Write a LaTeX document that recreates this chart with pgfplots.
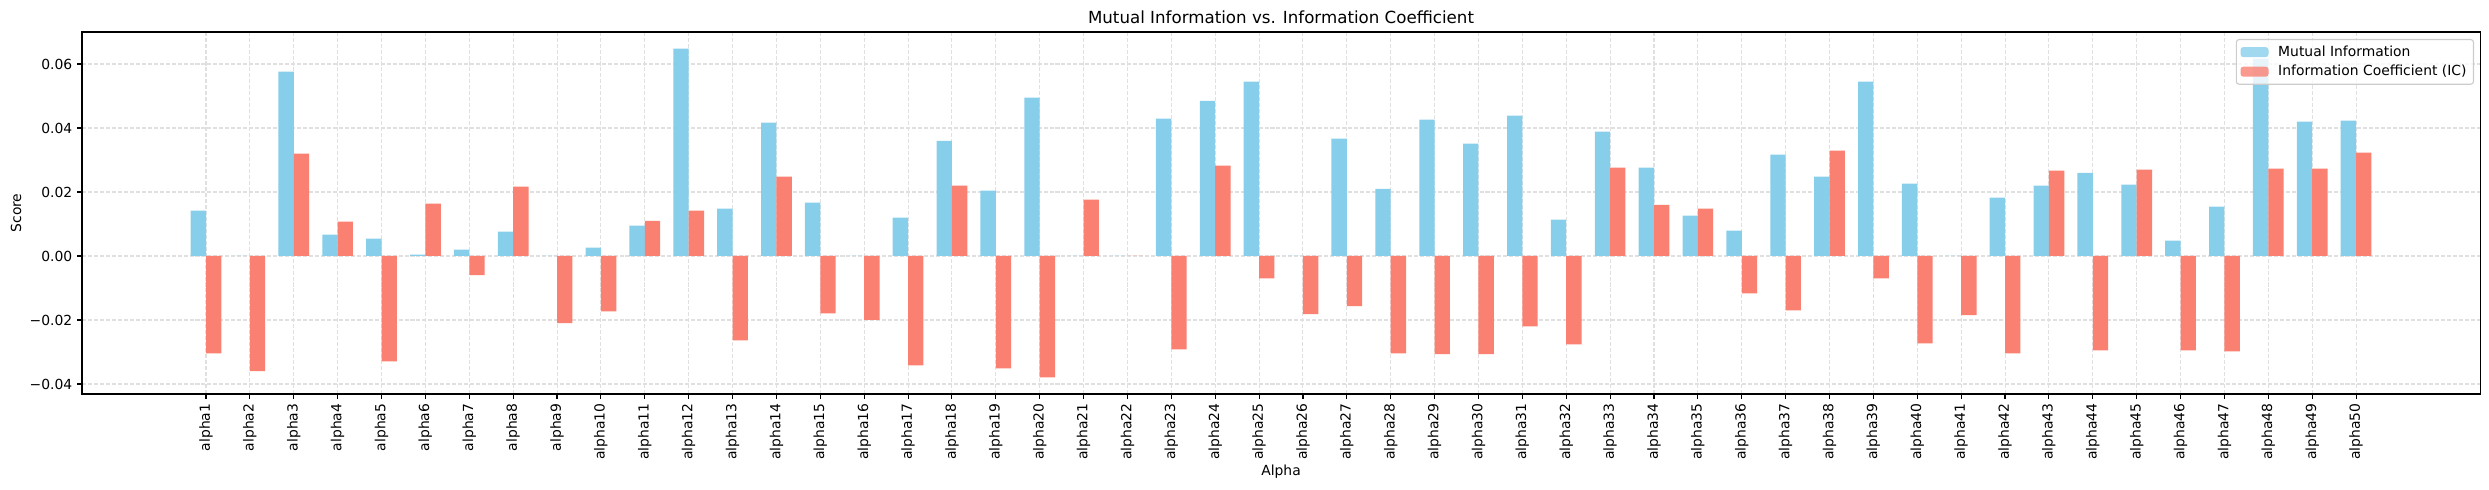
\documentclass[border=0pt]{standalone}
\usepackage{fontspec}
\setmainfont{DejaVu Sans}
\usepackage{pgfplots}
\pgfplotsset{compat=1.18}
\definecolor{mi}{HTML}{87CEEB}
\definecolor{ic}{HTML}{FA8072}
\definecolor{gridc}{HTML}{E0E0E0}
\definecolor{legedge}{HTML}{CCCCCC}
\begin{document}
\fontsize{10bp}{12bp}\selectfont
\begin{tikzpicture}
\useasboundingbox (-59.04bp,-69.12bp) rectangle (1733.04bp,283.68bp);
\begin{axis}[
  scale only axis, width=1726.56bp, height=260.64bp,
  xmin=-2.826, xmax=51.826, ymin=-0.04313, ymax=0.07,
  scaled y ticks=false,
  axis line style={line width=0.8bp},
  tick align=outside, xtick pos=bottom, ytick pos=left,
  major tick length=3.5bp,
  every tick/.style={black, line width=0.8bp},
  grid=major,
  major grid style={gridc, dash pattern=on 2.9bp off 1.4bp, line width=0.75bp},
  xtick={0,...,49},
  xticklabels={alpha1,alpha2,alpha3,alpha4,alpha5,alpha6,alpha7,alpha8,alpha9,alpha10,alpha11,alpha12,alpha13,alpha14,alpha15,alpha16,alpha17,alpha18,alpha19,alpha20,alpha21,alpha22,alpha23,alpha24,alpha25,alpha26,alpha27,alpha28,alpha29,alpha30,alpha31,alpha32,alpha33,alpha34,alpha35,alpha36,alpha37,alpha38,alpha39,alpha40,alpha41,alpha42,alpha43,alpha44,alpha45,alpha46,alpha47,alpha48,alpha49,alpha50},
  xticklabel style={rotate=90, anchor=east, font=\fontsize{10bp}{12bp}\selectfont},
  ytick={-0.04,-0.02,0,0.02,0.04,0.06},
  yticklabels={−0.04,−0.02,0.00,0.02,0.04,0.06},
  yticklabel style={font=\fontsize{10bp}{12bp}\selectfont},
  title={Mutual Information vs. Information Coefficient},
  every axis title/.style={at={(axis description cs:0.5,1)}, anchor=base, yshift=5.76bp, inner sep=0pt, font=\fontsize{12bp}{14.4bp}\selectfont},
  xlabel={Alpha}, ylabel={Score},
  every axis x label/.style={at={(axis description cs:0.5,-0.2257)}, anchor=base, font=\fontsize{10bp}{12bp}\selectfont},
  every axis y label/.style={at={(axis description cs:-0.02751,0.5)}, rotate=90, anchor=center, font=\fontsize{10bp}{12bp}\selectfont},
  legend cell align=left,
  legend style={at={(axis description cs:1,1)}, anchor=north east, xshift=-4.32bp, yshift=-5.04bp,
    draw=legedge, line width=0.8bp, rounded corners=2bp, fill=white, fill opacity=0.8, text opacity=1,
    inner xsep=3bp, inner ysep=2bp, font=\fontsize{10bp}{12bp}\selectfont,
    nodes={inner xsep=2bp, inner ysep=2.5bp},
    /tikz/every odd column/.append style={column sep=5bp}},
]
\addplot[ybar, bar width=0.35, bar shift=-0.175, fill=mi, draw=none,
  legend image code/.code={\fill[mi] (0bp,-3.6bp) rectangle (20.16bp,3.6bp);}] coordinates {
(0,0.0142) (1,0) (2,0.0576) (3,0.0067) (4,0.0054) (5,0.0004) (6,0.0020) (7,0.0076) (8,0) (9,0.0026)
(10,0.0095) (11,0.0648) (12,0.0148) (13,0.0417) (14,0.0167) (15,0) (16,0.0120) (17,0.0360) (18,0.0204) (19,0.0495)
(20,0) (21,0) (22,0.0429) (23,0.0485) (24,0.0545) (25,0) (26,0.0367) (27,0.0210) (28,0.0426) (29,0.0351)
(30,0.0439) (31,0.0114) (32,0.0389) (33,0.0276) (34,0.0126) (35,0.0079) (36,0.0317) (37,0.0248) (38,0.0545) (39,0.0226)
(40,0) (41,0.0182) (42,0.0220) (43,0.0260) (44,0.0223) (45,0.0048) (46,0.0154) (47,0.0617) (48,0.0420) (49,0.0423)
};
\addlegendentry{Mutual Information}
\addplot[ybar, bar width=0.35, bar shift=0.175, fill=ic, draw=none,
  legend image code/.code={\fill[ic] (0bp,-3.6bp) rectangle (20.16bp,3.6bp);}] coordinates {
(0,-0.0304) (1,-0.0360) (2,0.0320) (3,0.0107) (4,-0.0329) (5,0.0164) (6,-0.0060) (7,0.0217) (8,-0.0210) (9,-0.0173)
(10,0.0110) (11,0.0142) (12,-0.0264) (13,0.0248) (14,-0.0179) (15,-0.0200) (16,-0.0342) (17,0.0220) (18,-0.0351) (19,-0.0379)
(20,0.0176) (21,0) (22,-0.0292) (23,0.0282) (24,-0.0070) (25,-0.0182) (26,-0.0157) (27,-0.0304) (28,-0.0307) (29,-0.0307)
(30,-0.0220) (31,-0.0276) (32,0.0276) (33,0.0160) (34,0.0148) (35,-0.0117) (36,-0.0170) (37,0.0329) (38,-0.0070) (39,-0.0273)
(40,-0.0185) (41,-0.0304) (42,0.0267) (43,-0.0295) (44,0.0270) (45,-0.0295) (46,-0.0298) (47,0.0273) (48,0.0273) (49,0.0323)
};
\addlegendentry{Information Coefficient (IC)}
\end{axis}
\end{tikzpicture}
\end{document}
